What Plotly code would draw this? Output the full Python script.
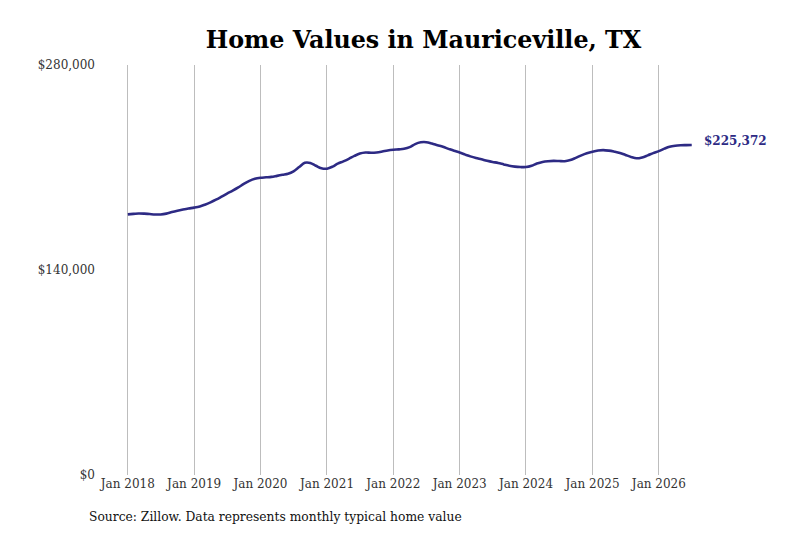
import pandas as pd
import plotly.graph_objects as go

# monthly typical home value, Jan 2018 - Jul 2026
start_month = "2018-01-01"
values = [
    # 2018
    178000, 178300, 178600, 178500, 178200, 177900, 177900, 178500, 179600, 180500, 181300, 182000,
    # 2019
    182600, 183400, 184600, 186200, 188000, 190100, 192200, 194200, 196400, 198800, 200900, 202300,
    # 2020
    203000, 203300, 203600, 204300, 205000, 205700, 207400, 210300, 213200, 213100, 211200, 209500,
    # 2021
    209200, 210600, 212600, 214200, 215900, 217900, 219500, 220200, 220100, 220300, 220900, 221600,
    # 2022
    222100, 222400, 222800, 223900, 226000, 227200, 227300, 226400, 225200, 224100, 222700, 221400,
    # 2023
    220200, 218800, 217600, 216500, 215600, 214600, 213800, 213100, 212100, 211200, 210600, 210300,
    # 2024
    210300, 211200, 212700, 213800, 214300, 214500, 214400, 214300, 215100, 216600, 218300, 219700,
    # 2025
    220800, 221600, 221900, 221500, 220800, 219900, 218600, 217200, 216300, 216900, 218300, 219800,
    # 2026
    221200, 222900, 224200, 224900, 225200, 225300, 225372,
]
dates = pd.date_range(start_month, periods=len(values), freq="MS")

tick_dates = pd.date_range("2018-01-01", "2026-01-01", freq="YS")
tick_labels = [d.strftime("Jan %Y") for d in tick_dates]
y_ticks = [0, 140000, 280000]
y_tick_labels = ["$0", "$140,000", "$280,000"]

line_color = "#2d2a84"
serif = "DejaVu Serif"

# page body has an 8px margin, so the figure is drawn 8px in from the corner
W, H = 792, 525
ML, MR, MT, MB = 92, 97, 57, 58
plot_w = W - ML - MR
plot_h = H - MT - MB

fig = go.Figure()
fig.add_trace(go.Scatter(
    x=dates, y=values, mode="lines",
    line=dict(color=line_color, width=2.6, shape="spline"),
    hoverinfo="skip", showlegend=False,
))

# end-of-series value label
fig.add_annotation(
    x=dates[-1], y=values[-1], text=f"<b>${values[-1]:,}</b>",
    showarrow=False, xanchor="left", xshift=10, yshift=4,
    font=dict(family=serif, size=12, color=line_color),
)

# source note, placed in page pixels
fig.add_annotation(
    xref="paper", yref="paper",
    x=(87 - 8 - ML) / plot_w, y=(H - MB - (517 - 8)) / plot_h,
    text="Source: Zillow. Data represents monthly typical home value",
    showarrow=False, xanchor="left", yanchor="middle",
    font=dict(family=serif, size=12.3, color="#111111"),
)

fig.update_layout(
    width=W, height=H,
    margin=dict(l=ML, r=MR, t=MT, b=MB),
    plot_bgcolor="white", paper_bgcolor="white",
    title=dict(text="<b>Home Values in Mauriceville, TX</b>",
               x=(423.5 - 8) / W, xanchor="center",
               y=1 - (40 - 8) / H, yanchor="middle",
               font=dict(family=serif, size=23.8, color="#000000")),
    font=dict(family=serif, size=12, color="#333333"),
    xaxis=dict(
        range=[pd.Timestamp("2017-08-01"), pd.Timestamp("2026-09-01")],
        tickvals=tick_dates, ticktext=tick_labels,
        showgrid=True, gridcolor="#bdbdbd", gridwidth=1,
        ticks="", showline=False, zeroline=False,
        tickfont=dict(family=serif, size=12, color="#333333"),
    ),
    yaxis=dict(
        range=[0, 280000], tickvals=y_ticks, ticktext=y_tick_labels,
        showgrid=False, zeroline=False, showline=False,
        ticks="", ticklabelstandoff=4,
        tickfont=dict(family=serif, size=12, color="#333333"),
    ),
)

fig.write_html("out.html")
